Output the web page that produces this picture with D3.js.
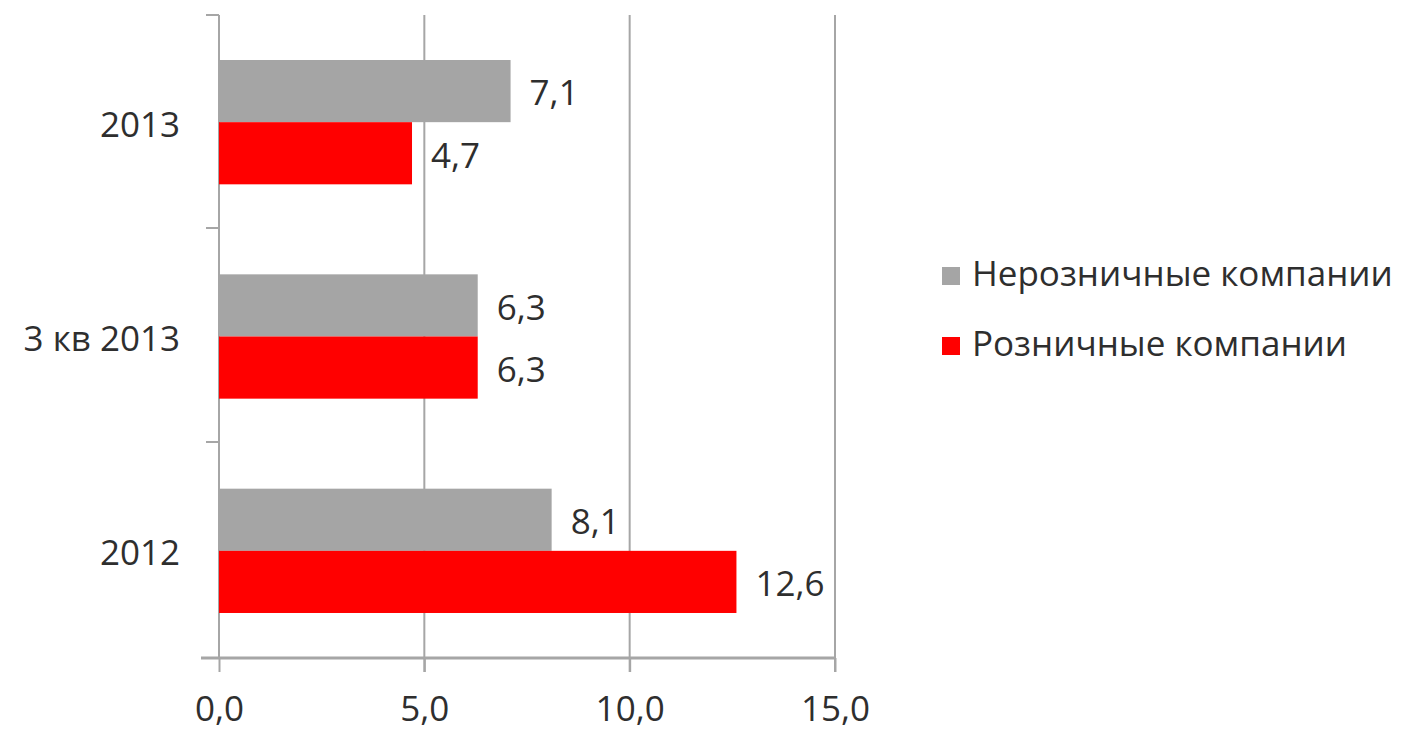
<!DOCTYPE html>
<html><head><meta charset="utf-8">
<script src="https://cdn.jsdelivr.net/npm/d3@7"></script>
<style>body{margin:0;background:#fff}svg{display:block}</style>
</head><body>
<script>
const categories = ["2013", "3 кв 2013", "2012"];
const seriesNames = ["Нерозничные компании", "Розничные компании"];
const nonRetail = [7.1, 6.3, 8.1];
const retail = [4.7, 6.3, 12.6];
const xTicks = [0, 5, 10, 15];
const colors = ["#a5a5a5", "#ff0000"];

const W = 1407, H = 731;
const font = "'Open Sans', sans-serif";
const fs = 35;
const txt = "#2e2e2e";
const svg = d3.select("body").append("svg").attr("width", W).attr("height", H);

const x = d3.scaleLinear().domain([0, 15]).range([219, 835]);
const y = d3.scaleBand().domain(categories).range([15, 658]).paddingInner(0.42).paddingOuter(0.21);
const sub = d3.scaleBand().domain([0, 1]).range([0, y.bandwidth()]);

// grid lines
svg.append("g").selectAll("line").data(xTicks.slice(1)).join("line")
  .attr("x1", d => x(d)).attr("x2", d => x(d)).attr("y1", 15).attr("y2", 672)
  .attr("stroke", "#a6a6a6").attr("stroke-width", 2);

// x axis
const xAxis = svg.append("g").attr("transform", "translate(0,658)")
  .call(d3.axisBottom(x).tickValues(xTicks).tickSize(14).tickSizeOuter(0).tickFormat(d => d3.format(".1f")(d).replace(".", ",")));
xAxis.select(".domain").attr("stroke", "#a6a6a6").attr("stroke-width", 3).attr("d", "M201,0H835");
xAxis.selectAll(".tick line").attr("stroke", "#a6a6a6").attr("stroke-width", 2);
xAxis.selectAll("text").attr("font-family", font).attr("font-size", fs).attr("fill", txt).attr("dy", null).attr("y", 63);

// y axis
const bounds = [15, 228, 442, 658];
svg.append("line").attr("x1", 219).attr("x2", 219).attr("y1", 15).attr("y2", 658).attr("stroke", "#a6a6a6").attr("stroke-width", 2);
svg.append("g").selectAll("line").data(bounds).join("line")
  .attr("x1", 206).attr("x2", 219).attr("y1", d => d).attr("y2", d => d)
  .attr("stroke", "#a6a6a6").attr("stroke-width", 2);
svg.append("g").selectAll("text").data(categories).join("text")
  .attr("x", 180).attr("y", d => y(d) + y.bandwidth() / 2 + 5)
  .attr("text-anchor", "end").attr("dominant-baseline", "middle")
  .attr("font-family", font).attr("font-size", fs).attr("fill", txt).text(d => d);

// bars
const series = [nonRetail, retail];
series.forEach((vals, si) => {
  const g = svg.append("g");
  g.selectAll("rect").data(categories).join("rect")
    .attr("x", x(0)).attr("y", (d) => y(d) + sub(si))
    .attr("width", (d, i) => x(vals[i]) - x(0)).attr("height", sub.bandwidth())
    .attr("fill", colors[si]);
  g.selectAll("text").data(categories).join("text")
    .attr("x", (d, i) => x(vals[i]) + 19)
    .attr("y", d => y(d) + sub(si) + sub.bandwidth() / 2 + 5)
    .attr("dominant-baseline", "middle")
    .attr("font-family", font).attr("font-size", fs).attr("fill", txt)
    .text((d, i) => d3.format(".1f")(vals[i]).replace(".", ","));
});

// legend
const leg = svg.append("g");
seriesNames.forEach((n, i) => {
  const ly = 276 + i * 70;
  leg.append("rect").attr("x", 942).attr("y", ly - 9).attr("width", 18).attr("height", 18).attr("fill", colors[i]);
  leg.append("text").attr("x", 972).attr("y", ly + 1).attr("dominant-baseline", "middle")
    .attr("font-family", font).attr("font-size", fs).attr("fill", txt).text(n);
});
</script>
</body></html>
